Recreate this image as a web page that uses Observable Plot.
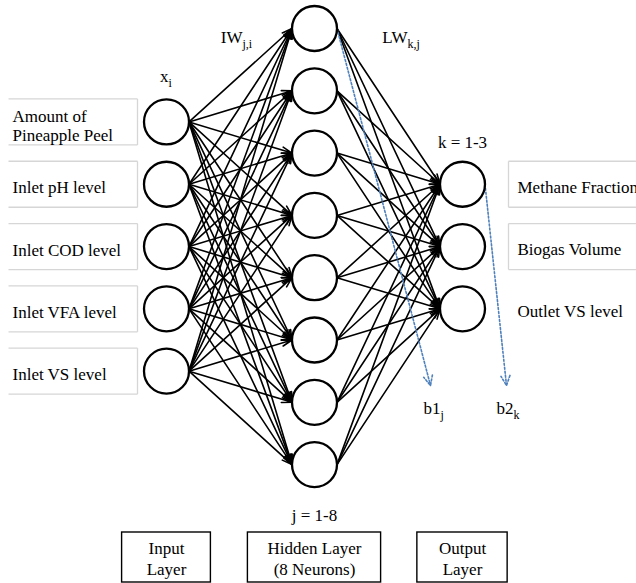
<!DOCTYPE html>
<html><head><meta charset="utf-8">
<script src="https://cdn.jsdelivr.net/npm/d3@7"></script>
<script src="https://cdn.jsdelivr.net/npm/@observablehq/plot@0.6"></script>
<style>html,body{margin:0;padding:0;background:#fff}#chart svg{display:block}</style>
</head><body><div id="chart"></div>
<script>
// ---- data ----
const inputLabels = ["Amount of\nPineapple Peel", "Inlet pH level", "Inlet COD level", "Inlet VFA level", "Inlet VS level"];
const hiddenCount = 8;
const outputLabels = ["Methane Fraction", "Biogas Volume", "Outlet VS level"];
const outputBoxed = [true, true, false];
const layerNames = ["Input\nLayer", "Hidden Layer\n(8 Neurons)", "Output\nLayer"];
const inputSymbol = {main: "x", sub: "i"};
const weightLabels = [{main: "IW", sub: "j,i"}, {main: "LW", sub: "k,j"}];
const indexLabels = ["j = 1-8", "k = 1-3"];
const biasLabels = [{main: "b1", sub: "j"}, {main: "b2", sub: "k"}];

// ---- layout (layer units on x, neuron slots on y) ----
const W = 636, H = 583;
const PX_X = 148, X0 = 166;   // pixels per layer, pixel of layer 0
const PX_Y = 62.3, Y0 = 28;   // pixels per neuron slot, pixel of slot 0
const R = 22.5;
const rx = R / PX_X;
const px = v => (v - X0) / PX_X;   // pixel -> layer units
const py = v => (v - Y0) / PX_Y;   // pixel -> slot units

const counts = [inputLabels.length, hiddenCount, outputLabels.length];
const maxCount = d3.max(counts);
const nodes = counts.flatMap((n, layer) => d3.range(n).map(i => ({layer, i, slot: i + (maxCount - n) / 2})));
const layerNodes = l => nodes.filter(d => d.layer === l);
const edges = [];
for (let l = 0; l < 2; l++) for (const a of layerNodes(l)) for (const b of layerNodes(l + 1)) edges.push({a, b});

const inputs = layerNodes(0).map((d, k) => ({...d, label: inputLabels[k]}));
const outputs = layerNodes(2).map((d, k) => ({...d, label: outputLabels[k], boxed: outputBoxed[k]}));
const boxH = 23 / PX_Y;

// light boxes around the labels (three-sided on the left, open on the right edge)
const inBoxL = px(8), inBoxR = px(137);
const outBoxL = px(508), outBoxR = px(W + 20);
const boxLines = [];
for (const d of inputs) {
  boxLines.push({x1: inBoxL, x2: inBoxR, y1: d.slot - boxH, y2: d.slot - boxH});
  boxLines.push({x1: inBoxL, x2: inBoxR, y1: d.slot + boxH, y2: d.slot + boxH});
  boxLines.push({x1: inBoxR, x2: inBoxR, y1: d.slot - boxH, y2: d.slot + boxH});
}
for (const d of outputs.filter(d => d.boxed)) {
  boxLines.push({x1: outBoxL, x2: outBoxR, y1: d.slot - boxH, y2: d.slot - boxH});
  boxLines.push({x1: outBoxL, x2: outBoxR, y1: d.slot + boxH, y2: d.slot + boxH});
  boxLines.push({x1: outBoxL, x2: outBoxL, y1: d.slot - boxH, y2: d.slot + boxH});
}

// layer name boxes
const layerHalf = [0.30, 0.45, 0.305];
const layerBoxes = layerNames.map((name, l) => ({name, x1: l - layerHalf[l], x2: l + layerHalf[l], y1: py(532), y2: py(582), cx: l}));

// symbol labels (main + subscript, joined at x)
const symbols = [
  {...inputSymbol, x: px(168), y: py(81)},
  {...weightLabels[0], x: px(242), y: py(42)},
  {...weightLabels[1], x: px(407), y: py(42)},
  {...biasLabels[0], x: px(440), y: py(413)},
  {...biasLabels[1], x: px(513), y: py(413)}
];
const indexText = [
  {text: indexLabels[0], x: 1, y: py(520)},
  {text: indexLabels[1], x: 2, y: py(147)}
];

// bias arrows: from right edge of first hidden / first output neuron to above the bias label
const h0 = layerNodes(1)[0], o0 = layerNodes(2)[0];
const biasArrows = [
  {x1: h0.layer + rx, y1: h0.slot, x2: px(430), y2: py(385)},
  {x1: o0.layer + rx, y1: o0.slot, x2: px(506), y2: py(385)}
];

const font = "'Liberation Serif','Times New Roman',serif";

const chart = Plot.plot({
  width: W, height: H, margin: 0,
  x: {domain: [px(0), px(W)], range: [0, W], axis: null},
  y: {domain: [py(0), py(H)], range: [0, H], axis: null},
  style: {fontFamily: font, fontSize: "17px", background: "#fff", color: "#000"},
  marks: [
    Plot.link(boxLines, {x1: "x1", y1: "y1", x2: "x2", y2: "y2", stroke: "#d6d6d6", strokeWidth: 1.3}),
    Plot.arrow(edges, {
      x1: d => d.a.layer + rx, y1: d => d.a.slot,
      x2: d => d.b.layer - rx, y2: d => d.b.slot,
      stroke: "#000", strokeWidth: 1.6, headLength: 10, headAngle: 35
    }),
    Plot.arrow(biasArrows, {
      x1: "x1", y1: "y1", x2: "x2", y2: "y2",
      stroke: "#4f81bd", strokeWidth: 1.6, strokeDasharray: "2,2", headLength: 10, headAngle: 50
    }),
    Plot.dot(nodes, {x: "layer", y: "slot", r: R, stroke: "#000", strokeWidth: 2.3, fill: "#fff"}),
    Plot.text(inputs, {x: () => px(12), y: "slot", text: "label", textAnchor: "start", lineAnchor: "middle", lineHeight: 1.12, fontSize: 17, dy: 3}),
    Plot.text(outputs, {x: () => px(517), y: "slot", text: "label", textAnchor: "start", lineAnchor: "middle", fontSize: 17, dy: 3}),
    Plot.text(symbols, {x: "x", y: "y", text: "main", textAnchor: "end", lineAnchor: "bottom", fontSize: 17}),
    Plot.text(symbols, {x: "x", y: "y", text: "sub", textAnchor: "start", lineAnchor: "bottom", fontSize: 12, dy: 5}),
    Plot.text(indexText, {x: "x", y: "y", text: "text", textAnchor: "middle", lineAnchor: "bottom", fontSize: 17}),
    Plot.rect(layerBoxes, {x1: "x1", x2: "x2", y1: "y1", y2: "y2", fill: "none", stroke: "#000", strokeWidth: 1.4}),
    Plot.text(layerBoxes, {x: "cx", y: d => (d.y1 + d.y2) / 2, text: "name", textAnchor: "middle", lineAnchor: "middle", lineHeight: 1.29, fontSize: 17})
  ]
});
document.getElementById("chart").appendChild(chart);
</script>
</body></html>
